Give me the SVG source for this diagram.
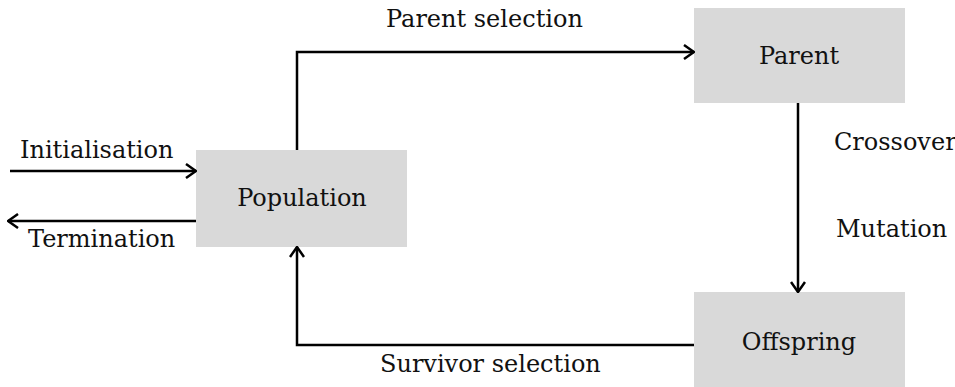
<svg xmlns="http://www.w3.org/2000/svg" width="955" height="387" viewBox="0 0 955 387">
<style>
.box{fill:#d9d9d9;}
.t{font-family:"DejaVu Serif",serif;font-size:24px;fill:#111;}
.c{text-anchor:middle;}
.ln{fill:none;stroke:#000;stroke-width:2.5;}
</style>
<defs>
<marker id="ah" viewBox="0 0 12 16" refX="11" refY="8" markerWidth="12" markerHeight="16" markerUnits="userSpaceOnUse" orient="auto">
<path d="M1,1 L11,8 L1,15" fill="none" stroke="#000" stroke-width="2.5"/>
</marker>
</defs>
<g id="population"><rect class="box" x="196" y="150" width="211" height="97"/><text class="t c" x="302" y="206">Population</text></g>
<g id="parent"><rect class="box" x="694" y="8" width="211" height="95"/><text class="t c" x="799" y="64">Parent</text></g>
<g id="offspring"><rect class="box" x="694" y="292" width="211" height="95"/><text class="t c" x="799" y="350">Offspring</text></g>
<g id="connectors">
<path class="ln" d="M10,171 H196" marker-end="url(#ah)"/>
<path class="ln" d="M196,221 H8" marker-end="url(#ah)"/>
<path class="ln" d="M297,150 V52 H694" marker-end="url(#ah)"/>
<path class="ln" d="M798,103 V292" marker-end="url(#ah)"/>
<path class="ln" d="M694,345 H297 V247" marker-end="url(#ah)"/>
</g>
<g id="labels">
<text class="t" x="20" y="158">Initialisation</text>
<text class="t" x="28" y="247">Termination</text>
<text class="t" x="386" y="27">Parent selection</text>
<text class="t" x="834" y="150">Crossover</text>
<text class="t" x="836" y="237">Mutation</text>
<text class="t" x="380" y="372">Survivor selection</text>
</g>
</svg>
